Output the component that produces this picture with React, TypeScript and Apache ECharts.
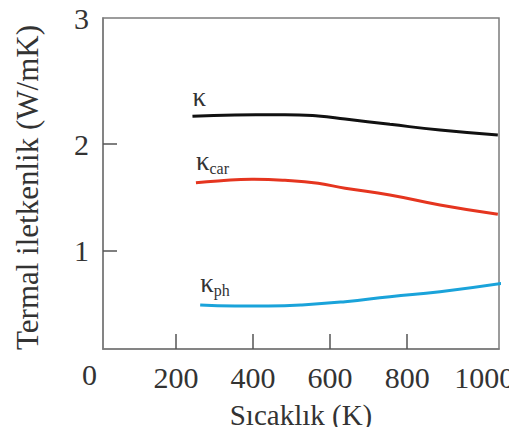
import React, { useEffect, useRef } from "react";
import * as echarts from "echarts";

// Temperatures (K) and thermal conductivities (W/mK) for each curve
const tempsTotal = [243, 353, 483, 569, 639, 755, 885, 1035];
const kappaTotal = [2.264, 2.276, 2.279, 2.266, 2.238, 2.188, 2.134, 2.087];

const tempsCar = [252, 309, 397, 483, 569, 639, 755, 885, 1035];
const kappaCar = [1.638, 1.654, 1.67, 1.66, 1.632, 1.585, 1.522, 1.428, 1.34];

const tempsPh = [263, 353, 439, 527, 639, 755, 885, 1048];
const kappaPh = [0.485, 0.476, 0.476, 0.485, 0.516, 0.563, 0.61, 0.69];

const xTickValues = [200, 400, 600, 800];
const xLabelValues = [200, 400, 600, 800, 1000];
const yTickValues = [1, 2];
const yLabelValues = [1, 2, 3.19];

const FONT = "Liberation Serif, Times New Roman, serif";
const TEXT = "#333";
const FRAME = "#7c7c7c";

const labelRich = {
  k: { fontFamily: FONT, fontSize: 27, color: TEXT, lineHeight: 26, verticalAlign: "top" as const },
  s: { fontFamily: FONT, fontSize: 16, color: TEXT, lineHeight: 29, verticalAlign: "bottom" as const },
};

function build(temps: number[], vals: number[], sub: string, distance: number) {
  return temps.map((t, i) =>
    i === 0
      ? {
          value: [t, vals[i]],
          label: {
            show: true,
            position: "top",
            align: "left",
            distance,
            offset: [-3, 0],
            formatter: sub ? `{k|κ}{s|${sub}}` : "{k|κ}",
            rich: labelRich,
          },
        }
      : { value: [t, vals[i]] }
  );
}

export default function App() {
  const ref = useRef<HTMLDivElement>(null);

  useEffect(() => {
    if (!ref.current) return;
    const chart = echarts.init(ref.current, null, { renderer: "svg" });
    const line = (color: string) => ({
      type: "line" as const,
      smooth: 0.5,
      showSymbol: true,
      symbol: "circle",
      symbolSize: 0,
      clip: false,
      itemStyle: { color },
      lineStyle: { color, width: 3 },
      labelLayout: { hideOverlap: false },
    });
    chart.setOption({
      animation: false,
      backgroundColor: "#fff",
      textStyle: { fontFamily: FONT },
      grid: {
        left: 103,
        right: 18,
        top: 18,
        bottom: 86,
        outerBoundsMode: "none",
        containLabel: false,
        show: true,
        borderColor: FRAME,
        borderWidth: 1.5,
        backgroundColor: "transparent",
      },
      xAxis: {
        type: "value",
        min: 11,
        max: 1038,
        name: "Sıcaklık (K)",
        nameLocation: "middle",
        nameGap: 51,
        nameTextStyle: { fontFamily: FONT, fontSize: 29, color: TEXT },
        axisLine: { show: true, lineStyle: { color: FRAME, width: 1.5 } },
        axisTick: {
          show: true,
          inside: true,
          length: 15,
          customValues: xTickValues,
          lineStyle: { color: "#555", width: 1.5 },
        },
        axisLabel: {
          customValues: xLabelValues,
          margin: 13,
          fontFamily: FONT,
          fontSize: 30,
          color: TEXT,
          formatter: (v: number) => String(v),
        },
        splitLine: { show: false },
      },
      yAxis: {
        type: "value",
        min: 0.07,
        max: 3.19,
        name: "Termal iletkenlik (W/mK)",
        nameLocation: "middle",
        nameGap: 60,
        nameTextStyle: { fontFamily: FONT, fontSize: 31, color: TEXT, padding: [0, 8, 0, 0] },
        axisLine: { show: true, lineStyle: { color: FRAME, width: 1.5 } },
        axisTick: {
          show: true,
          inside: true,
          length: 14,
          customValues: yTickValues,
          lineStyle: { color: "#555", width: 1.5 },
        },
        axisLabel: {
          customValues: yLabelValues,
          margin: 14,
          fontFamily: FONT,
          fontSize: 30,
          color: TEXT,
          formatter: (v: number) => String(Math.round(v)),
        },
        splitLine: { show: false },
      },
      graphic: [
        {
          type: "text",
          x: 89.5,
          y: 374,
          style: {
            text: "0",
            fontFamily: FONT,
            fontSize: 30,
            fill: TEXT,
            align: "center",
            verticalAlign: "middle",
          },
        },
      ],
      series: [
        { ...line("#111111"), name: "κ", data: build(tempsTotal, kappaTotal, "", 7) },
        { ...line("#e5351f"), name: "κcar", data: build(tempsCar, kappaCar, "car", 6) },
        { ...line("#1aa3da"), name: "κph", data: build(tempsPh, kappaPh, "ph", 6) },
      ],
    });
    return () => chart.dispose();
  }, []);

  return <div ref={ref} style={{ width: 517, height: 435, margin: -8 }} />;
}
